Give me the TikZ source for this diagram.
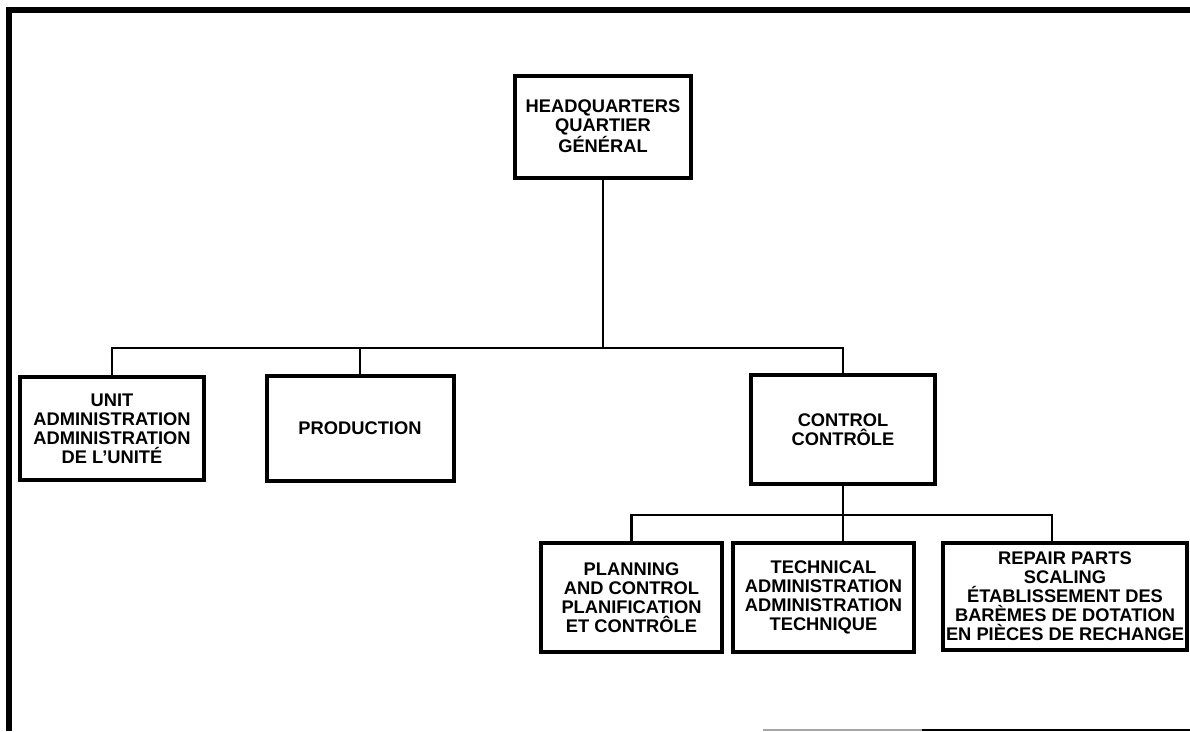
\documentclass[tikz,border=0pt]{standalone}
\usepackage{fontspec}
\setmainfont{Liberation Sans}
\begin{document}
\begin{tikzpicture}[x=1pt,y=-1pt,
  orgbox/.style={draw, line width=4pt, rectangle, inner sep=0pt, align=center,
    font=\fontsize{18.3}{19}\selectfont\bfseries},
  link/.style={line width=2.4pt},
  frameline/.style={line width=5.5pt}]
\useasboundingbox (0,0) rectangle (1190,731);
% frame
\draw[frameline] (9,731) -- (9,10) -- (1190,10);
\draw[line width=1.5pt, black!35] (763,730) -- (922,730);
\draw[line width=1.5pt] (922,730) -- (1190,730);
% boxes
\node[orgbox, minimum width=176pt, minimum height=102pt] (hq) at (603,126.5) {HEADQUARTERS\\QUARTIER\\GÉNÉRAL};
\node[orgbox, minimum width=184pt, minimum height=103pt] (unit) at (112,428.5) {UNIT\\ADMINISTRATION\\ADMINISTRATION\\DE L’UNITÉ};
\node[orgbox, minimum width=187pt, minimum height=105pt] (prod) at (360,428.5) {PRODUCTION};
\node[orgbox, minimum width=184pt, minimum height=109pt] (ctrl) at (843,429.5) {CONTROL\\CONTRÔLE};
\node[orgbox, minimum width=181pt, minimum height=109pt] (plan) at (631.5,597.5) {PLANNING\\AND CONTROL\\PLANIFICATION\\ET CONTRÔLE};
\node[orgbox, minimum width=181pt, minimum height=109pt] (tech) at (823.5,597.5) {TECHNICAL\\ADMINISTRATION\\ADMINISTRATION\\TECHNIQUE};
\node[orgbox, minimum width=244pt, minimum height=107pt] (rep) at (1065,596.5) {REPAIR PARTS\\SCALING\\ÉTABLISSEMENT DES\\BARÈMES DE DOTATION\\EN PIÈCES DE RECHANGE};
% connectors
\coordinate (b1) at (0,348);
\coordinate (b2) at (0,515);
\coordinate (repin) at ([xshift=-13pt]rep.north);
\draw[link] (hq.south) -- (hq.south |- b1);
\draw[link] (unit.north) -- (unit.north |- b1) -- (ctrl.north |- b1) -- (ctrl.north);
\draw[link] (prod.north) -- (prod.north |- b1);
\draw[link] (ctrl.south) -- (ctrl.south |- b2);
\draw[link] (plan.north) -- (plan.north |- b2) -- (repin |- b2) -- (repin);
\draw[link] (ctrl.south |- b2) -- (ctrl.south |- tech.north);
\end{tikzpicture}
\end{document}
